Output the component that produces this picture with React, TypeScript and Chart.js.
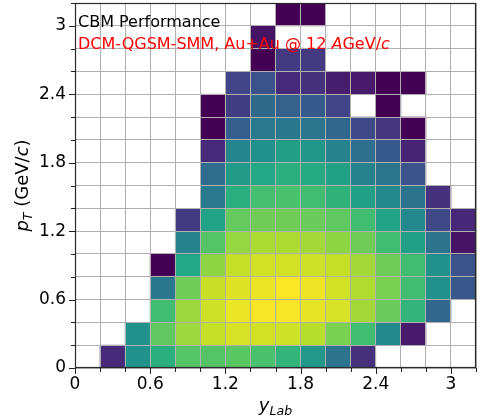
import React, { useEffect, useRef } from 'react';
import { Chart, registerables } from 'chart.js';

Chart.register(...registerables);

const N = null;

// bin edges: 16 bins of width 0.2 on each axis
const yLabEdges = [0, 0.2, 0.4, 0.6, 0.8, 1.0, 1.2, 1.4, 1.6, 1.8, 2.0, 2.2, 2.4, 2.6, 2.8, 3.0, 3.2];
const pTEdges = [0, 0.2, 0.4, 0.6, 0.8, 1.0, 1.2, 1.4, 1.6, 1.8, 2.0, 2.2, 2.4, 2.6, 2.8, 3.0, 3.2];

const xTickLabels = ['0', '0.6', '1.2', '1.8', '2.4', '3'];
const yTickLabels = ['0', '0.6', '1.2', '1.8', '2.4', '3'];

// normalised colour level per cell (row = pT bin, column = yLab bin)
const pT0 = [N, 0.12, 0.5, 0.63, 0.73, 0.73, 0.74, 0.71, 0.65, 0.53, 0.38, 0.14, N, N, N, N];
const pT1 = [N, N, 0.5, 0.75, 0.85, 0.91, 0.94, 0.93, 0.925, 0.89, 0.8, 0.69, 0.47, 0.07, N, N];
const pT2 = [N, N, N, 0.69, 0.85, 0.925, 0.97, 0.99, 0.99, 0.965, 0.94, 0.86, 0.77, 0.65, 0.33, N];
const pT3 = [N, N, N, 0.4, 0.78, 0.915, 0.955, 0.97, 1.0, 0.98, 0.93, 0.88, 0.8, 0.69, 0.5, 0.27];
const pT4 = [N, N, N, 0.0, 0.6, 0.83, 0.91, 0.93, 0.93, 0.925, 0.91, 0.86, 0.78, 0.69, 0.5, 0.25];
const pT5 = [N, N, N, N, 0.44, 0.73, 0.84, 0.87, 0.875, 0.86, 0.83, 0.78, 0.69, 0.56, 0.38, 0.05];
const pT6 = [N, N, N, N, 0.17, 0.58, 0.76, 0.78, 0.78, 0.77, 0.75, 0.69, 0.58, 0.47, 0.22, 0.11];
const pT7 = [N, N, N, N, N, 0.41, 0.63, 0.7, 0.71, 0.69, 0.64, 0.56, 0.47, 0.38, 0.14, N];
const pT8 = [N, N, N, N, N, 0.35, 0.54, 0.6, 0.63, 0.61, 0.57, 0.44, 0.39, 0.25, N, N];
const pT9 = [N, N, N, N, N, 0.12, 0.45, 0.5, 0.55, 0.52, 0.44, 0.36, 0.28, 0.1, N, N];
const pT10 = [N, N, N, N, N, 0.0, 0.3, 0.41, 0.4, 0.39, 0.33, 0.22, 0.16, 0.0, N, N];
const pT11 = [N, N, N, N, N, 0.0, 0.18, 0.34, 0.31, 0.28, 0.2, N, 0.0, N, N, N];
const pT12 = [N, N, N, N, N, N, 0.2, 0.25, 0.12, 0.14, 0.08, 0.07, 0.0, 0.0, N, N];
const pT13 = [N, N, N, N, N, N, N, 0.0, 0.17, 0.17, N, N, N, N, N, N];
const pT14 = [N, N, N, N, N, N, N, 0.05, N, N, N, N, N, N, N, N];
const pT15 = [N, N, N, N, N, N, N, N, 0.0, 0.0, N, N, N, N, N, N];

const density: (number | null)[][] = [pT0, pT1, pT2, pT3, pT4, pT5, pT6, pT7, pT8, pT9, pT10, pT11, pT12, pT13, pT14, pT15];

const VIRIDIS = ['#440154', '#482475', '#414487', '#355f8d', '#2a788e', '#21918c', '#22a884', '#44bf70', '#7ad151', '#bddf26', '#fde725'];

function hexToRgb(h: string) {
  return [parseInt(h.slice(1, 3), 16), parseInt(h.slice(3, 5), 16), parseInt(h.slice(5, 7), 16)];
}

function viridis(t: number) {
  const v = Math.max(0, Math.min(1, t)) * (VIRIDIS.length - 1);
  const i = Math.min(Math.floor(v), VIRIDIS.length - 2);
  const f = v - i;
  const a = hexToRgb(VIRIDIS[i]);
  const b = hexToRgb(VIRIDIS[i + 1]);
  const c = a.map((x, k) => Math.round(x + (b[k] - x) * f));
  return `rgb(${c[0]},${c[1]},${c[2]})`;
}

const isMajor = (v: number) => Math.abs(v / 0.6 - Math.round(v / 0.6)) < 1e-6;
const labelFor = (v: number, labels: string[]) => (isMajor(v) ? labels[Math.round(v / 0.6)] ?? '' : '');

const FONT = '"DejaVu Sans", sans-serif';

function drawSegments(ctx: CanvasRenderingContext2D, segs: [string, boolean, number, number][], x: number, y: number, align: 'left' | 'center') {
  let total = 0;
  for (const [t, it, s] of segs) {
    ctx.font = `${it ? 'italic ' : ''}${s}px ${FONT}`;
    total += ctx.measureText(t).width;
  }
  let cx = align === 'center' ? x - total / 2 : x;
  for (const [t, it, s, off] of segs) {
    ctx.font = `${it ? 'italic ' : ''}${s}px ${FONT}`;
    ctx.fillText(t, cx, y + off);
    cx += ctx.measureText(t).width;
  }
}

const decoPlugin = {
  id: 'deco',
  afterDraw(chart: any) {
    const { ctx, chartArea: a } = chart;
    const x = chart.scales.x;
    const y = chart.scales.y;
    ctx.save();
    ctx.strokeStyle = '#222';
    ctx.lineWidth = 1;
    ctx.beginPath();
    x.ticks.forEach((t: any) => {
      const px = Math.round(x.getPixelForValue(t.value)) + 0.5;
      const len = isMajor(t.value) ? 6 : 4;
      ctx.moveTo(px, a.bottom);
      ctx.lineTo(px, a.bottom + len);
    });
    y.ticks.forEach((t: any) => {
      const py = Math.round(y.getPixelForValue(t.value)) + 0.5;
      const len = isMajor(t.value) ? 6 : 4;
      ctx.moveTo(a.left, py);
      ctx.lineTo(a.left - len, py);
    });
    ctx.stroke();
    ctx.strokeStyle = '#2a2a2a';
    ctx.lineWidth = 1.2;
    ctx.strokeRect(Math.round(a.left) + 0.5, Math.round(a.top) + 0.5, Math.round(a.right - a.left) - 1, Math.round(a.bottom - a.top) - 1);

    ctx.textAlign = 'left';
    ctx.textBaseline = 'alphabetic';
    ctx.fillStyle = '#000';
    ctx.font = `16px ${FONT}`;
    ctx.fillText('CBM Performance', a.left + 3, a.top + 24);
    ctx.fillStyle = '#ff0000';
    drawSegments(ctx, [
      ['DCM-QGSM-SMM, Au+Au @ 12 ', false, 16, 0],
      ['A', true, 16, 0],
      ['GeV/', false, 16, 0],
      ['c', true, 16, 0],
    ], a.left + 3, a.top + 46, 'left');

    ctx.fillStyle = '#000';
    drawSegments(ctx, [
      ['y', true, 18, 0],
      ['Lab', true, 12.6, 3.7],
    ], (a.left + a.right) / 2, 411, 'center');

    ctx.save();
    ctx.translate(28, (a.top + a.bottom) / 2);
    ctx.rotate(-Math.PI / 2);
    drawSegments(ctx, [
      ['p', true, 18, 0],
      ['T', true, 12.6, 3.7],
      [' (GeV/', false, 18, 0],
      ['c', true, 18, 0],
      [')', false, 18, 0],
    ], 0, 0, 'center');
    ctx.restore();
    ctx.restore();
  },
};

export default function App() {
  const ref = useRef<HTMLCanvasElement>(null);
  useEffect(() => {
    const cells: { x: number; y: [number, number] }[] = [];
    const colors: string[] = [];
    density.forEach((row, r) =>
      row.forEach((v, c) => {
        if (v === null) return;
        cells.push({ x: (yLabEdges[c] + yLabEdges[c + 1]) / 2, y: [pTEdges[r], pTEdges[r + 1]] });
        colors.push(viridis(v));
      })
    );
    const chart = new Chart(ref.current as HTMLCanvasElement, {
      type: 'bar',
      data: {
        datasets: [
          {
            data: cells as any,
            backgroundColor: colors,
            borderWidth: 0,
            categoryPercentage: 1,
            barPercentage: 1,
          },
        ],
      },
      options: {
        animation: false,
        responsive: false,
        devicePixelRatio: 1,
        layout: { padding: { top: 3, right: 5, left: 0, bottom: 0 } },
        plugins: { legend: { display: false }, tooltip: { enabled: false } },
        scales: {
          x: {
            type: 'linear',
            offset: false,
            min: yLabEdges[0],
            max: yLabEdges[yLabEdges.length - 1],
            afterFit: (s: any) => { s.height = 48; s.paddingLeft = 0; s.paddingRight = 0; },
            grid: { color: '#b0b0b0', lineWidth: 1, drawTicks: false, z: 1, offset: false },
            border: { display: false },
            ticks: {
              stepSize: 0.2,
              autoSkip: false,
              maxRotation: 0,
              padding: 6,
              color: '#000',
              font: { family: 'DejaVu Sans', size: 17 },
              callback: (v: any) => labelFor(Number(v), xTickLabels),
            },
          },
          y: {
            type: 'linear',
            min: pTEdges[0],
            max: pTEdges[pTEdges.length - 1],
            afterFit: (s: any) => { s.width = 75; s.paddingTop = 0; s.paddingBottom = 0; },
            grid: { color: '#b0b0b0', lineWidth: 1, drawTicks: false, z: 1 },
            border: { display: false },
            ticks: {
              stepSize: 0.2,
              autoSkip: false,
              padding: 9,
              color: '#000',
              font: { family: 'DejaVu Sans', size: 17 },
              callback: (v: any) => labelFor(Number(v), yTickLabels),
            },
          },
        },
      },
      plugins: [decoPlugin],
    });
    return () => chart.destroy();
  }, []);
  return (
    <div style={{ position: 'fixed', left: 0, top: 0, width: 481, height: 416, background: '#fff' }}>
      <canvas ref={ref} width={481} height={416} style={{ display: 'block', width: 481, height: 416 }} />
    </div>
  );
}
